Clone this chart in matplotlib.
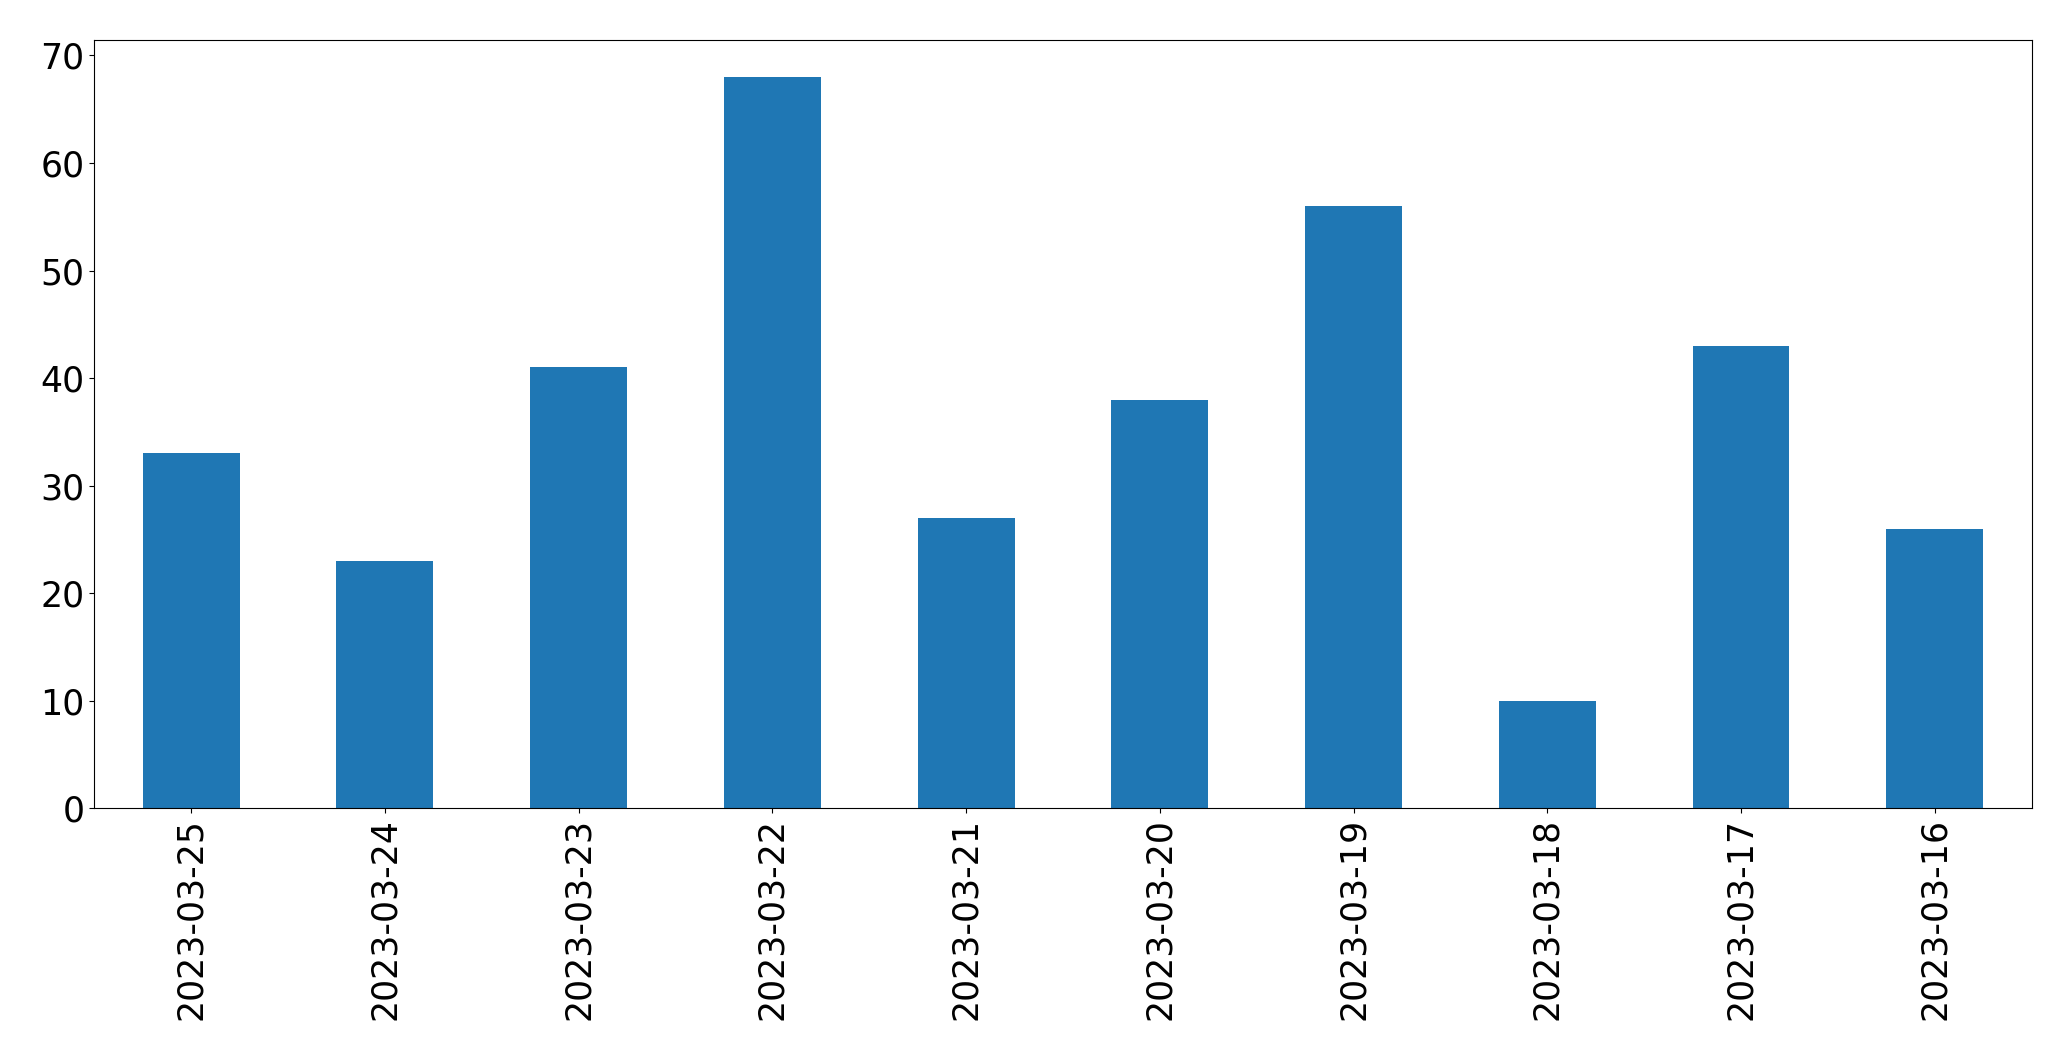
import pandas as pd
import matplotlib.pyplot as plt

dates = [
    "2023-03-25", "2023-03-24", "2023-03-23", "2023-03-22", "2023-03-21",
    "2023-03-20", "2023-03-19", "2023-03-18", "2023-03-17", "2023-03-16",
]
counts = [33, 23, 41, 68, 27, 38, 56, 10, 43, 26]

s = pd.Series(counts, index=dates)

fig = plt.figure(figsize=(20.71, 10.61), dpi=100)
ax = fig.add_subplot(111)

s.plot(kind="bar", ax=ax, color="#1f77b4")

ax.tick_params(axis="both", labelsize=25)

plt.subplots_adjust(left=0.0455, right=0.981, top=0.962, bottom=0.238)

plt.savefig("out.png", dpi=100)
